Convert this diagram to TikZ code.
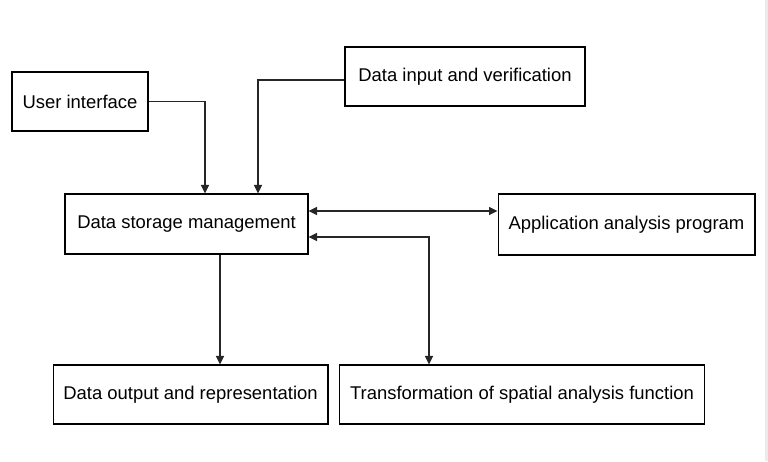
\documentclass[tikz,border=0pt]{standalone}
\usepackage{fontspec}
\setmainfont{Liberation Sans}
\usetikzlibrary{arrows.meta,calc,positioning}
\tikzset{
    flow diagram/.style = {>={Triangle[length=1.7mm, width=1.6mm]},
                           x=0.02cm, y=-0.02cm},
    line/.style         = {line width=0.6pt, draw=black!85},
    block/.style        = {draw, line width=0.6pt, fill=white,
                           font=\fontsize{10.5}{12}\selectfont,
                           minimum height=1.18cm, inner sep=2pt}
}

\begin{document}
\begin{tikzpicture}[flow diagram]
\useasboundingbox (0,0) rectangle (768,461);
\fill[black!8] (765,0) rectangle (768,461);

% Sources feeding the storage block from above.
\node[block, minimum width=2.72cm] (ui) at (80,101.5) {User interface};
\node[block, minimum width=4.8cm] (input) at (465,76.5)
    {Data input and verification};
\node[block, minimum width=4.86cm, minimum height=1.2cm] (storage)
    at (186.5,224) {Data storage management};
\coordinate (uiDrop) at (205,0);
\coordinate (inputDrop) at (258,0);
\draw[->, line] (ui.east) -| (uiDrop |- storage.north);
\draw[->, line] ($(input.west)+(0,3.5)$) -| (inputDrop |- storage.north);

% Analysis program exchanges data both ways.
\node[block, minimum width=5.14cm, minimum height=1.22cm] (analysis)
    at (626.5,224.5) {Application analysis program};
\draw[<->, line] ($(storage.east)+(0,-13)$)
    -- ($(analysis.west)+(0,-13.5)$);

% Outputs below the storage block.
\node[block, minimum width=5.5cm] (output) at (190.5,394.5)
    {Data output and representation};
\node[block, minimum width=7.32cm] (spatial) at (522,394.5)
    {Transformation of spatial analysis function};
\coordinate (storageDrop) at (220,0);
\coordinate (spatialRise) at (429,0);
\draw[->, line] (storageDrop |- storage.south)
    -- (storageDrop |- output.north);
\draw[<->, line] ($(storage.east)+(0,13)$)
    -| (spatialRise |- spatial.north);

\end{tikzpicture}
\end{document}
